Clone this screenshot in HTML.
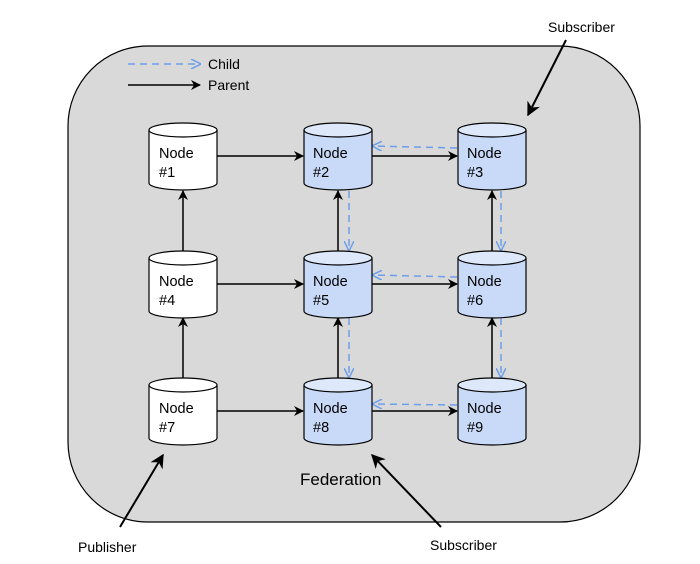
<!DOCTYPE html>
<html><head><style>body{margin:0;background:#fff}svg{display:block}</style></head><body>
<svg width="700" height="564" viewBox="0 0 700 564" xmlns="http://www.w3.org/2000/svg" font-family="Liberation Sans, sans-serif">
<defs>
<marker id="a" viewBox="0 0 10 10" refX="9" refY="5" markerWidth="10" markerHeight="10" markerUnits="userSpaceOnUse" orient="auto"><path d="M0,0 L10,5 L0,10 L3,5z" fill="#000"/></marker>
<marker id="b" viewBox="0 0 10 10" refX="9" refY="5" markerWidth="10" markerHeight="10" markerUnits="userSpaceOnUse" orient="auto"><path d="M0,0 L10,5 L0,10" fill="none" stroke="#6d9eeb" stroke-width="1.5"/></marker>
<marker id="c" viewBox="0 0 10 10" refX="9" refY="5" markerWidth="14" markerHeight="14" markerUnits="userSpaceOnUse" orient="auto"><path d="M0,0 L10,5 L0,10 L3,5z" fill="#000"/></marker>
</defs>
<rect x="68" y="46" width="572" height="476" rx="80" fill="#d9d9d9" stroke="#000" stroke-width="1.2"/>
<line x1="128" y1="64" x2="200" y2="64" stroke="#6d9eeb" stroke-width="1.5" stroke-dasharray="7,5" marker-end="url(#b)"/>
<text x="208" y="69" font-size="14">Child</text>
<line x1="128" y1="85" x2="200" y2="85" stroke="#000" stroke-width="1.5" marker-end="url(#a)"/>
<text x="208" y="90" font-size="14">Parent</text>
<g stroke="#000" stroke-width="1.5" marker-end="url(#a)">
<line x1="217" y1="156" x2="303" y2="156"/><line x1="372" y1="156" x2="457" y2="156"/>
<line x1="217" y1="284" x2="303" y2="284"/><line x1="372" y1="284" x2="457" y2="284"/>
<line x1="217" y1="411" x2="303" y2="411"/><line x1="372" y1="411" x2="457" y2="411"/>
<line x1="183" y1="251" x2="183" y2="191"/><line x1="183" y1="378" x2="183" y2="318"/>
<line x1="338" y1="251" x2="338" y2="191"/><line x1="338" y1="378" x2="338" y2="318"/>
<line x1="492" y1="251" x2="492" y2="191"/><line x1="492" y1="378" x2="492" y2="318"/>
</g>
<g stroke="#6d9eeb" stroke-width="1.5" stroke-dasharray="7,5" marker-end="url(#b)" fill="none">
<line x1="457" y1="148" x2="373" y2="146"/><line x1="457" y1="277" x2="373" y2="275"/><line x1="457" y1="405" x2="373" y2="404"/>
<line x1="349" y1="191" x2="349" y2="250"/><line x1="349" y1="318" x2="349" y2="377"/>
<line x1="501" y1="191" x2="501" y2="250"/><line x1="501" y1="318" x2="501" y2="377"/>
</g>
<g stroke="#000" stroke-width="1.2" font-size="15">
<g id="n"></g>
</g>
<g stroke="#000" stroke-width="1.2">
<path d="M149,130 V183 A34,7 0 0 0 217,183 V130" fill="#fff"/><ellipse cx="183" cy="130" rx="34" ry="7" fill="#fff"/>
<path d="M304,130 V183 A34,7 0 0 0 372,183 V130" fill="#c9daf8"/><ellipse cx="338" cy="130" rx="34" ry="7" fill="#dde8fa"/>
<path d="M458,130 V183 A34,7 0 0 0 526,183 V130" fill="#c9daf8"/><ellipse cx="492" cy="130" rx="34" ry="7" fill="#dde8fa"/>
<path d="M149,258 V311 A34,7 0 0 0 217,311 V258" fill="#fff"/><ellipse cx="183" cy="258" rx="34" ry="7" fill="#fff"/>
<path d="M304,258 V311 A34,7 0 0 0 372,311 V258" fill="#c9daf8"/><ellipse cx="338" cy="258" rx="34" ry="7" fill="#dde8fa"/>
<path d="M458,258 V311 A34,7 0 0 0 526,311 V258" fill="#c9daf8"/><ellipse cx="492" cy="258" rx="34" ry="7" fill="#dde8fa"/>
<path d="M149,385 V438 A34,7 0 0 0 217,438 V385" fill="#fff"/><ellipse cx="183" cy="385" rx="34" ry="7" fill="#fff"/>
<path d="M304,385 V438 A34,7 0 0 0 372,438 V385" fill="#c9daf8"/><ellipse cx="338" cy="385" rx="34" ry="7" fill="#dde8fa"/>
<path d="M458,385 V438 A34,7 0 0 0 526,438 V385" fill="#c9daf8"/><ellipse cx="492" cy="385" rx="34" ry="7" fill="#dde8fa"/>
</g>
<g font-size="14.5" fill="#000">
<text x="159" y="158">Node</text><text x="159" y="177">#1</text>
<text x="313" y="158">Node</text><text x="313" y="177">#2</text>
<text x="467" y="158">Node</text><text x="467" y="177">#3</text>
<text x="159" y="286">Node</text><text x="159" y="305">#4</text>
<text x="313" y="286">Node</text><text x="313" y="305">#5</text>
<text x="467" y="286">Node</text><text x="467" y="305">#6</text>
<text x="159" y="413">Node</text><text x="159" y="432">#7</text>
<text x="313" y="413">Node</text><text x="313" y="432">#8</text>
<text x="467" y="413">Node</text><text x="467" y="432">#9</text>
</g>
<text x="300" y="485" font-size="17">Federation</text>
<text x="548" y="32" font-size="14">Subscriber</text>
<text x="78" y="552" font-size="14">Publisher</text>
<text x="430" y="550" font-size="14">Subscriber</text>
<g stroke="#000" stroke-width="2" marker-end="url(#c)">
<line x1="566" y1="40" x2="528" y2="115"/>
<line x1="120" y1="527" x2="163" y2="455"/>
<line x1="441" y1="527" x2="372" y2="455"/>
</g>
</svg>
</body></html>
